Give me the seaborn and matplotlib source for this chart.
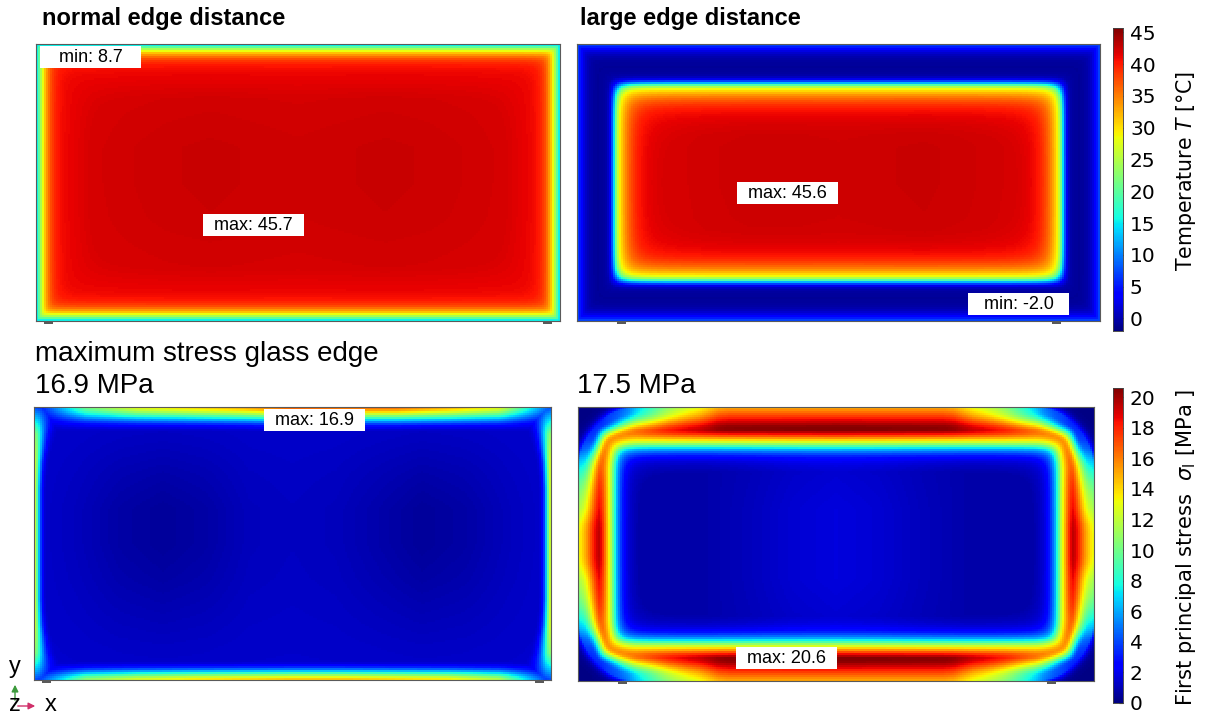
import numpy as np
import matplotlib
matplotlib.use("Agg")
import matplotlib.pyplot as plt
from matplotlib.patches import Rectangle, FancyArrowPatch
import seaborn as sns

# ---------------- values ----------------
TEMP_RANGE = (-2.0, 45.7)          # colour range of the temperature plots [°C]
STRESS_RANGE = (0.0, 20.6)         # colour range of the stress plots [MPa]
TEMP_TICKS = [0, 5, 10, 15, 20, 25, 30, 35, 40, 45]
STRESS_TICKS = [0, 2, 4, 6, 8, 10, 12, 14, 16, 18, 20]

TOP_TITLES = ["normal edge distance", "large edge distance"]
STRESS_TITLES = ["maximum stress glass edge", "16.9 MPa", "17.5 MPa"]
CBAR_LABELS = [r"Temperature $T$ [°C]", r"First principal stress  $\sigma_\mathrm{I}$ [MPa ]"]
VALUE_LABELS = ["min: 8.7", "max: 45.7", "max: 45.6", "min: -2.0", "max: 16.9", "max: 20.6"]

# temperature, normal edge distance: value vs. depth from the glass edge (every 3 px)
TEMP_NORMAL_DEPTH = [13.0, 20.0, 26.5, 31.5, 35.0, 37.5, 39.0, 40.0, 40.5, 40.8,
                     41.0, 41.1, 41.2, 41.3, 41.4, 41.5, 41.6, 41.7, 41.8]
TEMP_NORMAL_XBUMP = [0.0, 0.2, 0.5, 0.7, 0.8, 0.7, 0.6, 0.7, 0.8, 0.7, 0.5, 0.2, 0.0]
TEMP_NORMAL_YBUMP = [0.0, 0.3, 0.7, 1.0, 1.0, 0.9, 0.6, 0.3, 0.0]

# temperature, large edge distance (every 3 px)
TEMP_LARGE_DEPTH = [8.0, 5.0, 2.5, 1.0, 0.0, -0.5, -0.8, -0.9, -0.8, -0.6,
                    0.0, 2.8, 11.0, 22.0, 28.5, 31.5, 34.0, 36.0, 37.5, 38.8,
                    39.8, 40.4, 40.8, 41.1, 41.3, 41.5, 41.6, 41.7, 41.8]
TEMP_LARGE_XBUMP = [0.0, 0.0, 0.2, 0.5, 0.7, 0.7, 0.6, 0.7, 0.8, 0.6, 0.3, 0.0, 0.0]
TEMP_LARGE_YBUMP = [0.0, 0.0, 0.5, 1.0, 1.0, 0.9, 0.5, 0.0, 0.0]

# stress, normal edge distance
SIG_N_BASE = 1.4
SIG_N_XBUMP = [0.0, -0.3, -0.7, -0.9, -0.7, -0.3, -0.2, -0.3, -0.6, -0.9, -0.7, -0.3, 0.0]
SIG_N_YBUMP = [0.0, 0.3, 0.7, 1.0, 1.0, 0.8, 0.5, 0.2, 0.0]
SIG_N_TOP = [2.0, 10.0, 13.0, 14.0, 15.0, 16.9, 16.5, 16.5, 15.0, 13.0, 4.0]
SIG_N_BOTTOM = [3.0, 11.0, 13.0, 14.0, 14.5, 15.0, 15.0, 14.5, 14.0, 12.0, 3.0]
SIG_N_SIDE = [4.0, 11.0, 13.0, 13.0, 13.0, 13.0, 13.0, 13.0, 13.0, 11.0, 4.0]
SIG_N_SIDE_WIDTH = [3.0, 1.8, 1.2, 1.0, 1.0, 1.0, 1.0, 1.0, 1.2, 1.8, 3.0]
SIG_N_TOP_DECAY = [1.0, 0.95, 0.88, 0.78, 0.66, 0.54, 0.42, 0.31, 0.21, 0.13, 0.07, 0.03, 0.0]  # every 2 px
SIG_N_BOT_DECAY = [1.0, 0.9, 0.78, 0.62, 0.46, 0.32, 0.2, 0.1, 0.04, 0.0]                       # every 2 px
SIG_N_SIDE_DECAY = [1.0, 0.85, 0.55, 0.3, 0.12, 0.03, 0.0]                                      # every 2 px

# stress, large edge distance: ring profile vs. depth, from -15 px to 60 px (every 3 px)
SIG_L_DEPTH = [0.8, 1.0, 1.6, 3.0, 7.0,
               15.0, 15.8, 16.7, 17.6, 18.6, 19.5, 20.3, 20.4, 19.0, 16.6,
               14.2, 11.7, 8.8, 6.0, 4.2, 2.9, 2.0, 1.5, 1.2, 1.0, 0.8]
# ring strength vs. distance from the nearest panel corner (0, 10, ... 160 px)
SIG_L_RAMP = [0.15, 0.15, 0.2, 0.25, 0.28, 0.34, 0.45, 0.54, 0.63, 0.71, 0.77,
              0.82, 0.86, 0.92, 0.98, 1.0, 1.0]
SIG_L_SIDE_FACTOR = 0.87
SIG_L_REACH = [1.0, 1.0, 1.0, 0.92, 0.8, 0.66, 0.52, 0.38, 0.25, 0.14, 0.06, 0.0]
SIG_L_XBUMP = [0.0, 0.0, 0.0, 0.0, 0.3, 0.7, 0.9, 0.7, 0.3, 0.0, 0.0, 0.0, 0.0]
SIG_L_YBUMP = [0.0, 0.3, 0.8, 1.0, 1.0, 1.0, 0.8, 0.3, 0.0]

# ---------------- layout (pixels of the 1205 x 716 picture) ----------------
FW, FH = 1205, 716
def fx(p):
    return p / FW
def fy(p):
    return 1 - p / FH

BOX = {"tn": (36, 44, 560, 321), "tl": (577, 44, 1100, 321),
       "sn": (34, 407, 551, 680), "sl": (578, 407, 1094, 681)}


def grid(box, cell=2.0):
    x0, y0, x1, y1 = box
    w, h = x1 - x0, y1 - y0
    nc, nr = int(round(w / cell)), int(round(h / cell))
    xs = (np.arange(nc) + 0.5) * w / nc
    ys = (np.arange(nr) + 0.5) * h / nr
    X, Y = np.meshgrid(xs, ys)
    return X, Y, w, h


def depth(dx, dy, p):
    dx = np.maximum(dx, 0.05)
    dy = np.maximum(dy, 0.05)
    return (dx ** -p + dy ** -p) ** (-1.0 / p)


def along(vals, s):
    return np.interp(s, np.linspace(0, 1, len(vals)), vals)


def radial(vals, d, step, start=0.0):
    return np.interp(d, start + np.arange(len(vals)) * step, vals)


# temperature, normal edge
X, Y, w, h = grid(BOX["tn"])
dx, dy = np.minimum(X, w - X), np.minimum(Y, h - Y)
temp_normal = radial(TEMP_NORMAL_DEPTH, depth(dx, dy, 4), 3) + \
    along(TEMP_NORMAL_XBUMP, X / w) * along(TEMP_NORMAL_YBUMP, Y / h)

# temperature, large edge
X, Y, w, h = grid(BOX["tl"])
dx, dy = np.minimum(X, w - X), np.minimum(Y, h - Y)
temp_large = radial(TEMP_LARGE_DEPTH, depth(dx, dy * 0.93, 6), 3) + \
    along(TEMP_LARGE_XBUMP, X / w) * along(TEMP_LARGE_YBUMP, Y / h)

# stress, normal edge
X, Y, w, h = grid(BOX["sn"])
base = SIG_N_BASE + along(SIG_N_XBUMP, X / w) * along(SIG_N_YBUMP, Y / h)
side_w = along(SIG_N_SIDE_WIDTH, Y / h)
c_top = (along(SIG_N_TOP, X / w) - SIG_N_BASE) * radial(SIG_N_TOP_DECAY, Y, 2)
c_bot = (along(SIG_N_BOTTOM, X / w) - SIG_N_BASE) * radial(SIG_N_BOT_DECAY, h - Y, 2)
c_lft = (along(SIG_N_SIDE, Y / h) - SIG_N_BASE) * radial(SIG_N_SIDE_DECAY, X / side_w, 2)
c_rgt = (along(SIG_N_SIDE, Y / h) - SIG_N_BASE) * radial(SIG_N_SIDE_DECAY, (w - X) / side_w, 2)
stress_normal = base + np.maximum.reduce([c_top, c_bot, c_lft, c_rgt, np.zeros_like(base)])

# stress, large edge: sharp inner corners, strongly rounded outer corners
X, Y, w, h = grid(BOX["sl"])
dx, dy = np.minimum(X, w - X), np.minimum(Y, h - Y)
dyy = dy * 0.92
R0 = 60.0
corner = (dx < R0) & (dyy < R0)
d_out = np.where(corner, R0 - np.hypot(R0 - dx, R0 - dyy), np.minimum(dx, dyy))
d_in = depth(dx, dyy, 6)
t = np.clip((d_in - 15.0) / 25.0, 0, 1)
D = t * d_in + (1 - t) * d_out
L = (dx ** 4 + (dy * 1.19) ** 4) ** 0.25
a = dy ** 2 / (dx ** 2 + dy ** 2 + 1e-9)
ramp = np.interp(L, np.arange(len(SIG_L_RAMP)) * 10.0, SIG_L_RAMP) * ((1 - a) + a * SIG_L_SIDE_FACTOR)
w_eff = 1 - (1 - ramp) * radial(SIG_L_REACH, D, 3)
stress_large = radial(SIG_L_DEPTH, D, 3, start=-15.0) * w_eff + \
    along(SIG_L_XBUMP, X / w) * along(SIG_L_YBUMP, Y / h)

# ---------------- drawing ----------------
sns.set_theme(style="white")
plt.rcParams["font.family"] = ["Liberation Sans", "DejaVu Sans"]
plt.rcParams["mathtext.fontset"] = "dejavusans"
plt.rcParams["text.color"] = "black"

fig = plt.figure(figsize=(FW / 100, FH / 100), dpi=100)


def add_ax(box):
    x0, y0, x1, y1 = box
    return fig.add_axes([fx(x0), fy(y1), (x1 - x0) / FW, (y1 - y0) / FH])


cax_t = fig.add_axes([fx(1113), fy(331), 10 / FW, 303 / FH])
cax_s = fig.add_axes([fx(1113), fy(703), 10 / FW, 315 / FH])

fields = [("tn", temp_normal, TEMP_RANGE, None), ("tl", temp_large, TEMP_RANGE, cax_t),
          ("sn", stress_normal, STRESS_RANGE, None), ("sl", stress_large, STRESS_RANGE, cax_s)]
for key, field, rng, cax in fields:
    ax = add_ax(BOX[key])
    sns.heatmap(field, ax=ax, cmap="jet", vmin=rng[0], vmax=rng[1],
                cbar=cax is not None, cbar_ax=cax,
                xticklabels=False, yticklabels=False, rasterized=True)
    for s in ax.spines.values():
        s.set_visible(True)
        s.set_color("#5a5a5a")
        s.set_linewidth(0.8)

for cax, ticks, label, yc, fs in [(cax_t, TEMP_TICKS, CBAR_LABELS[0], 171, 14.8),
                                  (cax_s, STRESS_TICKS, CBAR_LABELS[1], 547, 15.1)]:
    cax.set_yticks(ticks)
    cax.set_yticklabels([str(t) for t in ticks], family="DejaVu Sans", color="black")
    cax.tick_params(axis="y", direction="in", length=3, width=0.8, colors="#222222",
                    labelcolor="black", labelsize=14.5, pad=5, right=True, left=False)
    for s in cax.spines.values():
        s.set_visible(True)
        s.set_linewidth(0.5)
        s.set_color("#444444")
    fig.text(fx(1186), fy(yc), label, rotation=90, ha="center", va="center",
             fontsize=fs, family="DejaVu Sans")

# titles
fig.text(fx(42), fy(25), TOP_TITLES[0], fontsize=17, fontweight="bold", va="baseline")
fig.text(fx(580), fy(25), TOP_TITLES[1], fontsize=17, fontweight="bold", va="baseline")
fig.text(fx(35), fy(361), STRESS_TITLES[0], fontsize=20, va="baseline")
fig.text(fx(35), fy(393), STRESS_TITLES[1], fontsize=20, va="baseline")
fig.text(fx(577), fy(393), STRESS_TITLES[2], fontsize=20, va="baseline")

# value labels (white boxes)
LABEL_POS = [(40, 46), (203, 214), (737, 182), (968, 293), (264, 409), (736, 647)]
for txt, (lx, ly) in zip(VALUE_LABELS, LABEL_POS):
    fig.add_artist(Rectangle((fx(lx), fy(ly + 22)), 101 / FW, 22 / FH,
                             transform=fig.transFigure, facecolor="white", edgecolor="none"))
    fig.text(fx(lx + 50.5), fy(ly + 11.5), txt, ha="center", va="center", fontsize=13)

# support markers under the panels
for mx, my in [(44, 321), (543, 321), (617, 321), (1052, 321),
               (42, 680), (535, 680), (618, 681), (1047, 681)]:
    fig.add_artist(Rectangle((fx(mx), fy(my + 3)), 9 / FW, 3 / FH,
                             transform=fig.transFigure, facecolor="#5a5a5a", edgecolor="none"))

# coordinate triad
fig.add_artist(FancyArrowPatch((fx(15), fy(703)), (fx(15), fy(682)), transform=fig.transFigure,
                               arrowstyle="-|>,head_length=4,head_width=2", color="#3c9a3c", lw=1.0))
fig.add_artist(FancyArrowPatch((fx(15), fy(706)), (fx(38), fy(706)), transform=fig.transFigure,
                               arrowstyle="-|>,head_length=4,head_width=2", color="#d0306a", lw=1.0))
fig.text(fx(15), fy(667), "y", ha="center", va="center", fontsize=17)
fig.text(fx(15), fy(705), "z", ha="center", va="center", fontsize=17)
fig.text(fx(51), fy(705), "x", ha="center", va="center", fontsize=17)

fig.savefig("out.png", dpi=100)
